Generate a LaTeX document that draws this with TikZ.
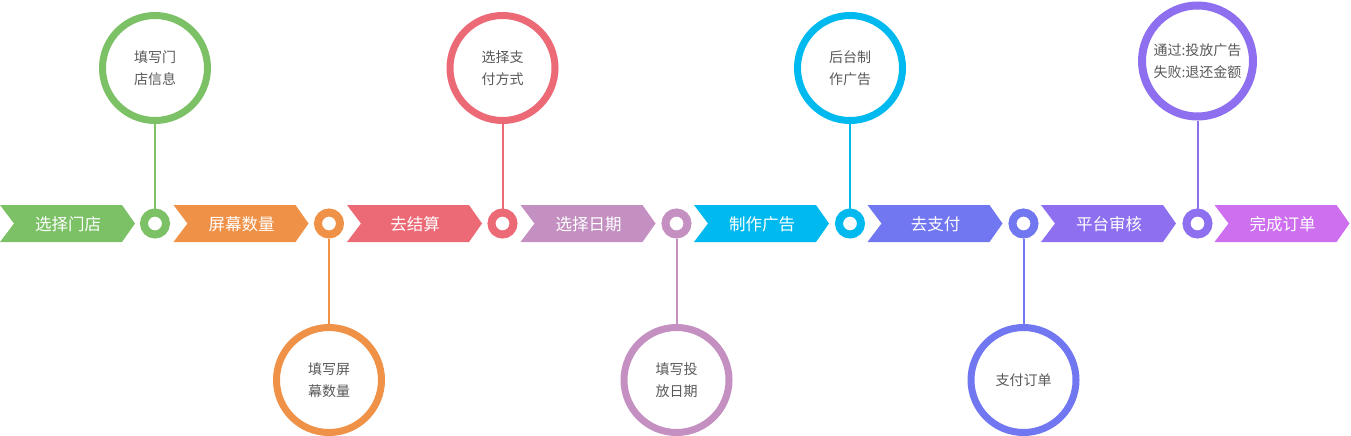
\documentclass[tikz,border=0pt]{standalone}
\usepackage{fontspec}
\newfontfamily\cjk{Noto Sans CJK SC}
\definecolor{cgreen}{HTML}{7CC165}
\definecolor{corange}{HTML}{F09148}
\definecolor{cred}{HTML}{EC6976}
\definecolor{cmauve}{HTML}{C490C1}
\definecolor{ccyan}{HTML}{00B9EE}
\definecolor{cblue}{HTML}{7176F1}
\definecolor{cpurple}{HTML}{8D6FEF}
\definecolor{cpink}{HTML}{CD6FEF}
\begin{document}
\begin{tikzpicture}[x=1pt,y=-1pt,
    steptext/.style={text=white,font=\cjk\fontsize{16.5}{18}\selectfont},
    dot/.style={circle,draw=#1,line width=8pt,fill=white,minimum size=22pt,inner sep=0pt},
    bubble/.style={circle,draw=#1,line width=7pt,fill=white,minimum size=105pt,inner sep=0pt,
        text=black!65,align=center,font=\cjk\fontsize{14}{22}\selectfont},
    stem/.style={draw=#1,line width=2pt}]
    \useasboundingbox (0,0) rectangle (1351,436);
    % steps
    \fill[cgreen] (0,205) -- ++(122,0) -- ++(13,18.5) -- ++(-13,18.5) -- ++(-122,0) -- ++(14,-18.5) -- cycle;
    \fill[corange] (173.5,205) -- ++(122,0) -- ++(13,18.5) -- ++(-13,18.5) -- ++(-122,0) -- ++(14,-18.5) -- cycle;
    \fill[cred] (347,205) -- ++(122,0) -- ++(13,18.5) -- ++(-13,18.5) -- ++(-122,0) -- ++(14,-18.5) -- cycle;
    \fill[cmauve] (520.5,205) -- ++(122,0) -- ++(13,18.5) -- ++(-13,18.5) -- ++(-122,0) -- ++(14,-18.5) -- cycle;
    \fill[ccyan] (694,205) -- ++(122,0) -- ++(13,18.5) -- ++(-13,18.5) -- ++(-122,0) -- ++(14,-18.5) -- cycle;
    \fill[cblue] (867.5,205) -- ++(122,0) -- ++(13,18.5) -- ++(-13,18.5) -- ++(-122,0) -- ++(14,-18.5) -- cycle;
    \fill[cpurple] (1041,205) -- ++(122,0) -- ++(13,18.5) -- ++(-13,18.5) -- ++(-122,0) -- ++(14,-18.5) -- cycle;
    \fill[cpink] (1214.5,205) -- ++(122,0) -- ++(13,18.5) -- ++(-13,18.5) -- ++(-122,0) -- ++(14,-18.5) -- cycle;
    \node[steptext] (s1) at (68,224) {选择门店};
    \node[steptext] (s2) at (241.5,224) {屏幕数量};
    \node[steptext] (s3) at (415,224) {去结算};
    \node[steptext] (s4) at (588.5,224) {选择日期};
    \node[steptext] (s5) at (762,224) {制作广告};
    \node[steptext] (s6) at (935.5,224) {去支付};
    \node[steptext] (s7) at (1109,224) {平台审核};
    \node[steptext] (s8) at (1282.5,224) {完成订单};
    % dots on the line
    \node[dot=cgreen] (d1) at (155,223.5) {};
    \node[dot=corange] (d2) at (329,223.5) {};
    \node[dot=cred] (d3) at (502.5,223.5) {};
    \node[dot=cmauve] (d4) at (676.5,223.5) {};
    \node[dot=ccyan] (d5) at (850,223.5) {};
    \node[dot=cblue] (d6) at (1023.5,223.5) {};
    \node[dot=cpurple] (d7) at (1197.5,223.5) {};
    % bubbles
    \node[bubble=cgreen] (b1) at (155,68) {填写门\\店信息};
    \node[bubble=corange] (b2) at (329,380) {填写屏\\幕数量};
    \node[bubble=cred] (b3) at (502.5,68) {选择支\\付方式};
    \node[bubble=cmauve] (b4) at (676.5,380) {填写投\\放日期};
    \node[bubble=ccyan] (b5) at (850,68) {后台制\\作广告};
    \node[bubble=cblue] (b6) at (1023.5,380) {支付订单};
    \node[bubble=cpurple,line width=8pt,minimum size=111pt] (b7) at (1197.5,61) {通过:投放广告\\失败:退还金额};
    \draw[stem=cgreen] (d1.north) -- (b1.south);
    \draw[stem=corange] (d2.south) -- (b2.north);
    \draw[stem=cred] (d3.north) -- (b3.south);
    \draw[stem=cmauve] (d4.south) -- (b4.north);
    \draw[stem=ccyan] (d5.north) -- (b5.south);
    \draw[stem=cblue] (d6.south) -- (b6.north);
    \draw[stem=cpurple] (d7.north) -- (b7.south);
\end{tikzpicture}
\end{document}
